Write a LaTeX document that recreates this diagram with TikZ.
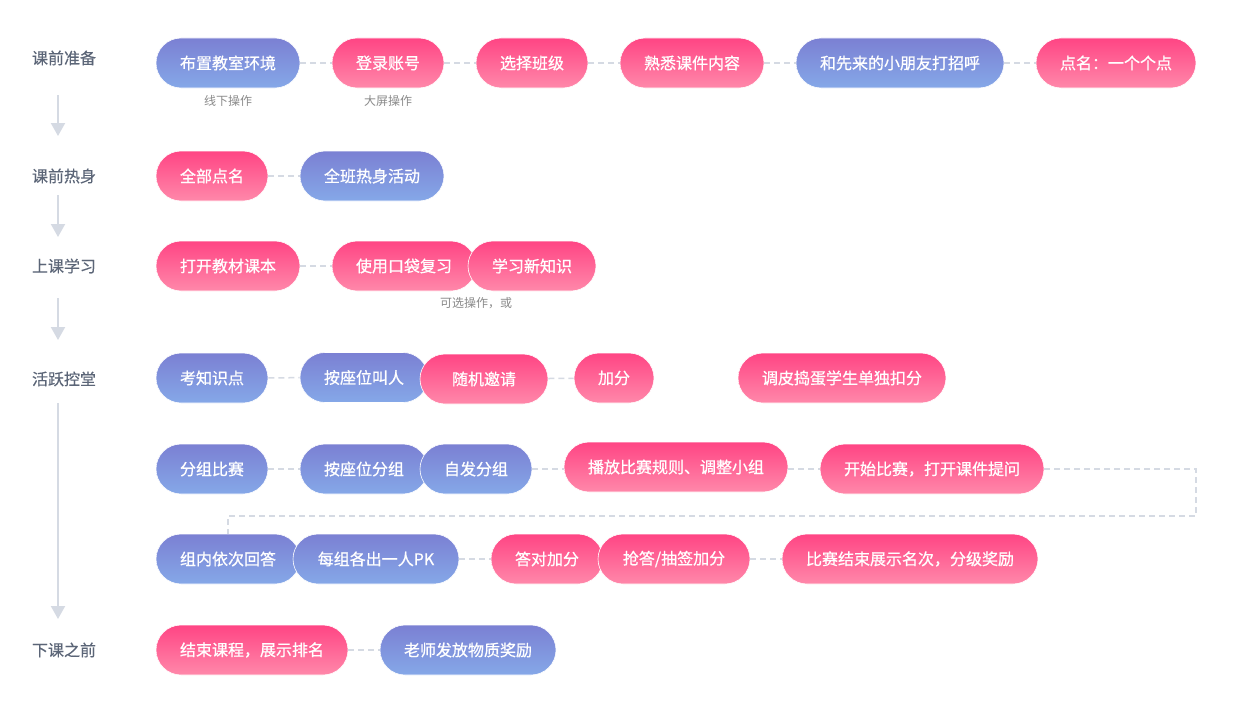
\documentclass[tikz,border=0pt]{standalone}
\usepackage{fontspec}
\setmainfont{Noto Sans CJK SC}
\newfontfamily\pillfont{Noto Sans CJK SC}[FakeBold=0.7]
\newfontfamily\phasefont{Noto Sans CJK SC}[FakeBold=0.3]
\usetikzlibrary{arrows.meta}
\definecolor{bluetop}{HTML}{7B80D3}
\definecolor{bluebot}{HTML}{85A8E8}
\definecolor{pinktop}{HTML}{FF4584}
\definecolor{pinkbot}{HTML}{FF88AA}
\definecolor{linec}{HTML}{D5DAE3}
\definecolor{labc}{HTML}{5B6577}
\definecolor{subc}{HTML}{8A8A8A}
\newcommand\pill[6]{\node[pillbox,#2,minimum width={#4pt-#3pt}] (#1) at ({(#3+#4)/2},#5) {#6};}
\tikzset{
  pillbox/.style={rounded corners=25pt, minimum height=50pt, inner sep=0pt, text=white,
    font=\pillfont\fontsize{16}{16}\selectfont, draw=white, line width=0.6pt},
  bluepill/.style={top color=bluetop, bottom color=bluebot},
  pinkpill/.style={top color=pinktop, bottom color=pinkbot},
  dashline/.style={draw=linec, line width=1.5pt, dash pattern=on 6pt off 4pt},
  phase/.style={text=labc, font=\phasefont\fontsize{16}{16}\selectfont, inner sep=0pt},
  sublab/.style={text=subc, font=\fontsize{12}{12}\selectfont, inner sep=0pt},
  flowarrow/.style={draw=linec, line width=2pt, -{Triangle[width=14pt,length=13pt]}}
}
\begin{document}
\begin{tikzpicture}[x=1pt,y=-1pt]
\path[use as bounding box, fill=white] (0,0) rectangle (1252,709);
% phases
\node[phase] (p1) at (64,58) {课前准备};
\node[phase] (p2) at (64,176) {课前热身};
\node[phase] (p3) at (64,266) {上课学习};
\node[phase] (p4) at (64,379) {活跃控堂};
\node[phase] (p5) at (64,650) {下课之前};
\coordinate (a1s) at (58,95);  \coordinate (a1e) at (58,136);
\coordinate (a2s) at (58,195); \coordinate (a2e) at (58,237);
\coordinate (a3s) at (58,298); \coordinate (a3e) at (58,340);
\coordinate (a4s) at (58,403); \coordinate (a4e) at (58,619);
\draw[flowarrow] (a1s) -- (a1e);
\draw[flowarrow] (a2s) -- (a2e);
\draw[flowarrow] (a3s) -- (a3e);
\draw[flowarrow] (a4s) -- (a4e);
% row 1
\pill{r1a}{bluepill}{156}{300}{63}{布置教室环境}
\pill{r1b}{pinkpill}{332}{444}{63}{登录账号}
\pill{r1c}{pinkpill}{476}{588}{63}{选择班级}
\pill{r1d}{pinkpill}{620}{764}{63}{熟悉课件内容}
\pill{r1e}{bluepill}{796}{1004}{63}{和先来的小朋友打招呼}
\pill{r1f}{pinkpill}{1036}{1196}{63}{点名：一个个点}
\node[sublab] (s1) at (228,101) {线下操作};
\node[sublab] (s2) at (388,101) {大屏操作};
\draw[dashline] (r1a) -- (r1b);
\draw[dashline] (r1b) -- (r1c);
\draw[dashline] (r1c) -- (r1d);
\draw[dashline] (r1d) -- (r1e);
\draw[dashline] (r1e) -- (r1f);
% row 2
\pill{r2a}{pinkpill}{156}{268}{176}{全部点名}
\pill{r2b}{bluepill}{300}{444}{176}{全班热身活动}
\draw[dashline] (r2a) -- (r2b);
% row 3
\pill{r3a}{pinkpill}{156}{300}{266}{打开教材课本}
\pill{r3b}{pinkpill}{332}{476}{266}{使用口袋复习}
\pill{r3c}{pinkpill}{468}{596}{266}{学习新知识}
\node[sublab] (s3) at (476,303) {可选操作，或};
\draw[dashline] (r3a) -- (r3b);
% row 4
\pill{r4a}{bluepill}{156}{268}{378}{考知识点}
\pill{r4b}{bluepill}{300}{428}{377.5}{按座位叫人}
\pill{r4c}{pinkpill}{420}{548}{379}{随机邀请}
\pill{r4d}{pinkpill}{574}{654}{378}{加分}
\pill{r4e}{pinkpill}{738}{946}{378}{调皮捣蛋学生单独扣分}
\draw[dashline] (r4a) -- (r4b);
\draw[dashline] (r4c) -- (r4d);
% row 5
\pill{r5a}{bluepill}{156}{268}{469}{分组比赛}
\pill{r5b}{bluepill}{300}{428}{469}{按座位分组}
\pill{r5c}{bluepill}{420}{532}{469}{自发分组}
\pill{r5d}{pinkpill}{564}{788}{467}{播放比赛规则、调整小组}
\pill{r5e}{pinkpill}{820}{1044}{469}{开始比赛，打开课件提问}
\draw[dashline] (r5a) -- (r5b);
\draw[dashline] (r5c.east) -- (r5d.west|-r5c.east);
\draw[dashline] (r5d.east|-r5e.west) -- (r5e.west);
% row 6
\pill{r6a}{bluepill}{156}{300}{559}{组内依次回答}
\pill{r6b}{bluepill}{293}{459}{559}{每组各出一人PK}
\pill{r6c}{pinkpill}{491}{603}{559}{答对加分}
\pill{r6d}{pinkpill}{598}{750}{559}{抢答/抽签加分}
\pill{r6e}{pinkpill}{782}{1038}{559}{比赛结束展示名次，分级奖励}
\draw[dashline] (r6b) -- (r6c);
\draw[dashline] (r6d) -- (r6e);
\coordinate (t1) at (1196,469);
\coordinate (t2) at (1196,516);
\coordinate (t3) at (228,516);
\draw[dashline] (r5e.east) -- (t1) -- (t2) -- (t3) -- (r6a.north);
% row 7
\pill{r7a}{pinkpill}{156}{348}{650}{结束课程，展示排名}
\pill{r7b}{bluepill}{380}{556}{650}{老师发放物质奖励}
\draw[dashline] (r7a) -- (r7b);
\end{tikzpicture}
\end{document}
